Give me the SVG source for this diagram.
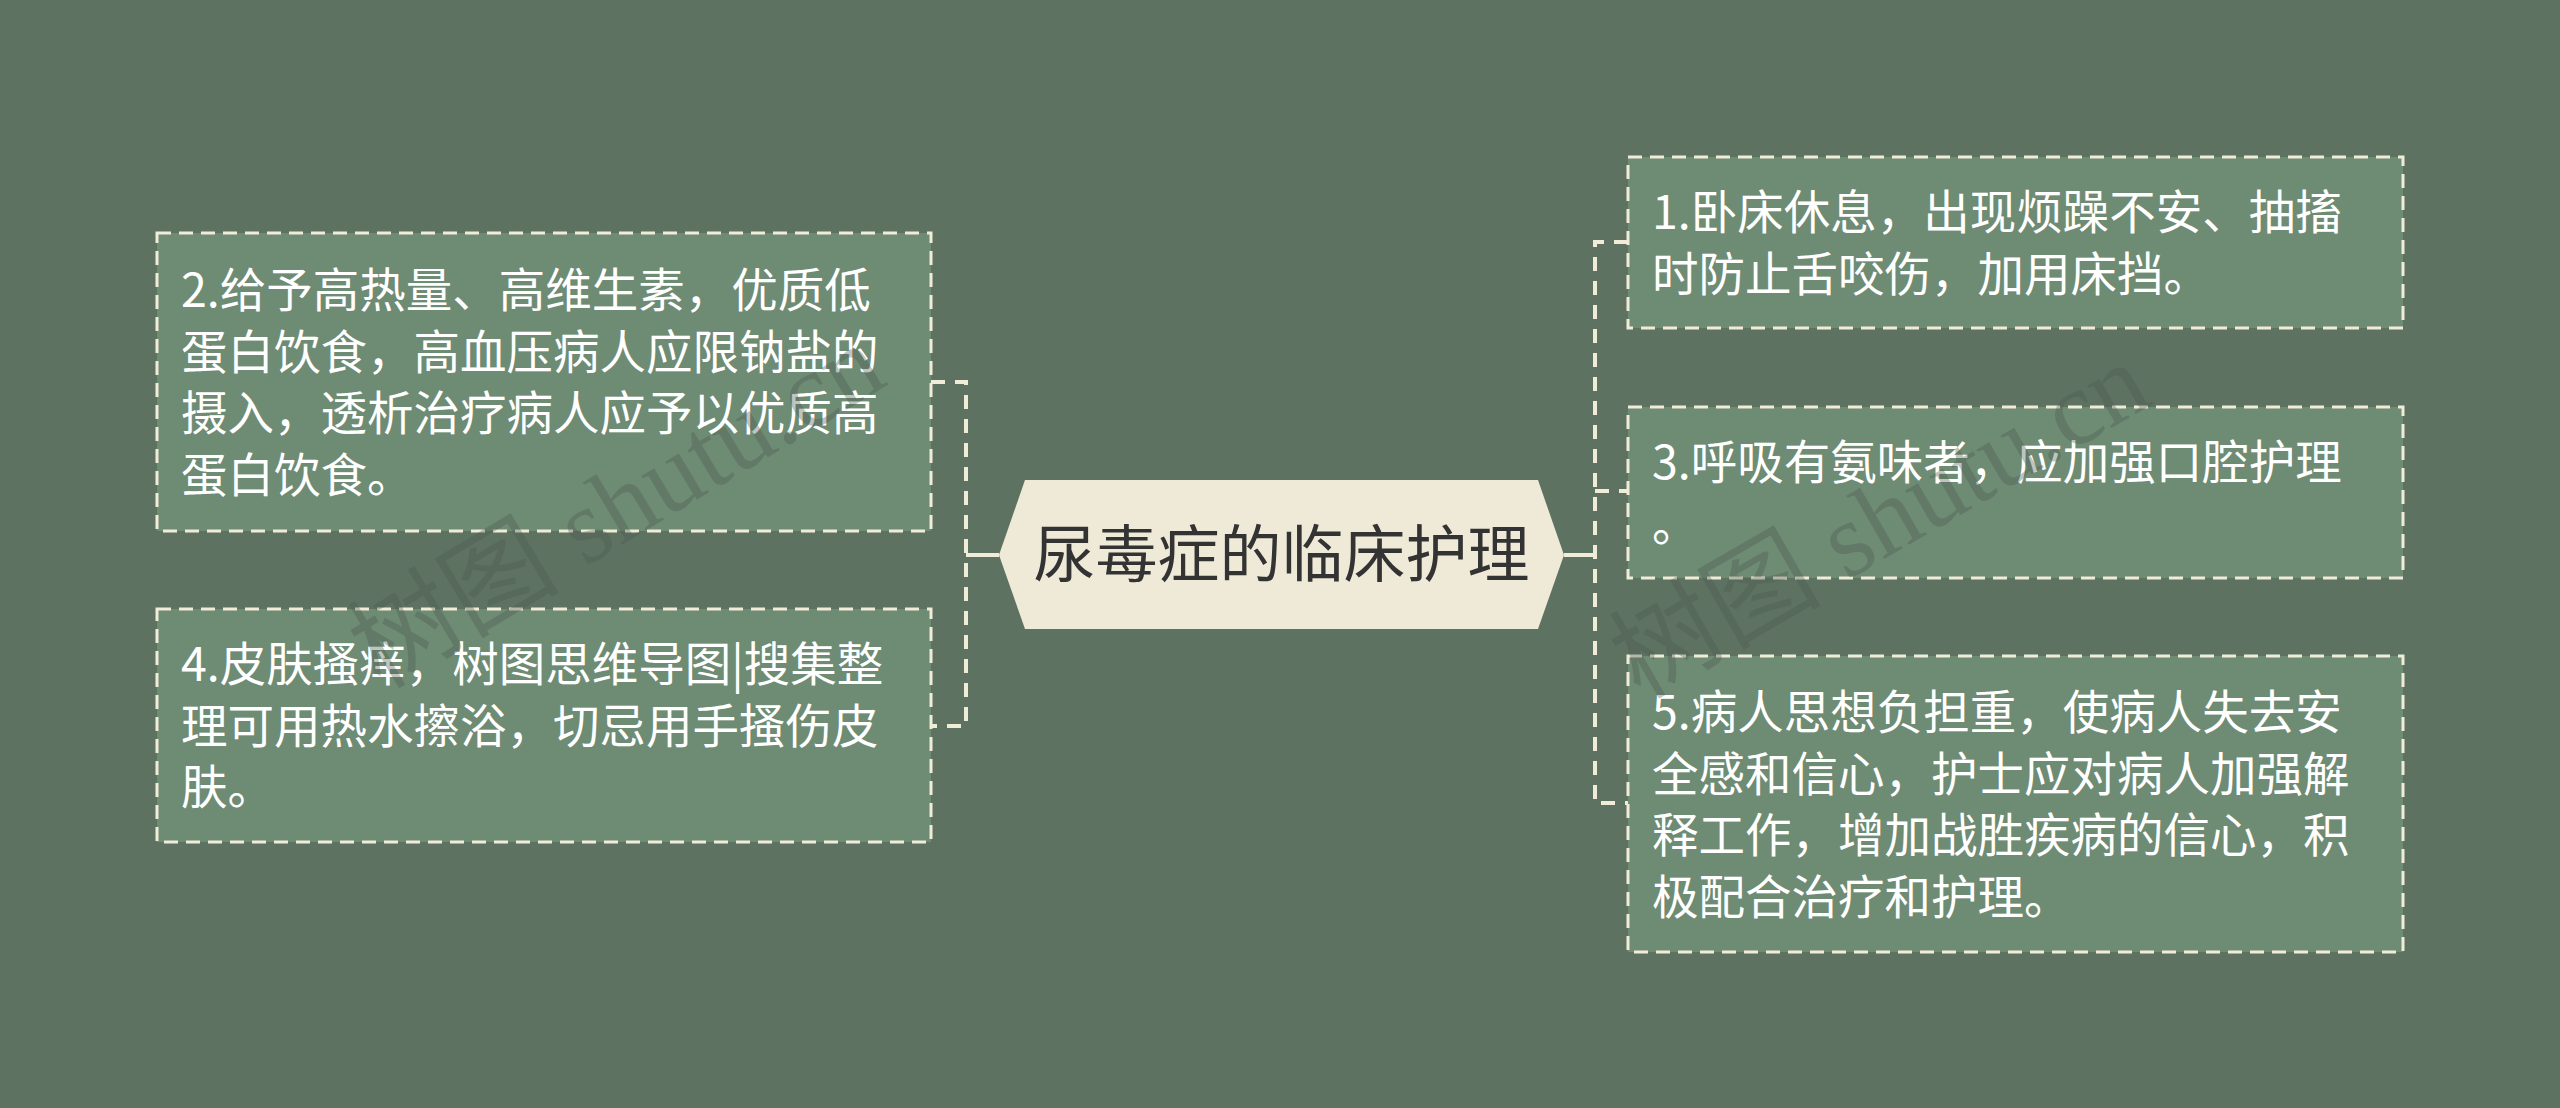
<svg xmlns="http://www.w3.org/2000/svg" width="2560" height="1108" viewBox="0 0 2560 1108">
<style>
.box{fill:#6e8b74;stroke:#f0ecd8;stroke-width:3;stroke-dasharray:14 8}
.txt{font-family:"Noto Sans CJK SC","Noto Sans",sans-serif;font-size:46.5px;fill:#ffffff}
.ctxt{font-family:"Noto Sans CJK SC","Noto Sans",sans-serif;font-size:62px;fill:#333333}
.dash{fill:none;stroke:#f0ecd8;stroke-width:4;stroke-dasharray:14 10}
.solid{fill:none;stroke:#f0ecd8;stroke-width:4}
.wm{font-family:"Liberation Serif","Noto Sans CJK SC",serif;font-size:106px;fill:#4a5a4d;opacity:0.35}
</style>
<rect x="0" y="0" width="2560" height="1108" fill="#5e7262"/>
<g id="connectors">
<line class="solid" x1="999" y1="555" x2="966" y2="555"/>
<path class="dash" d="M931 382 H966 V726 H931"/>
<line class="solid" x1="1564" y1="555" x2="1595" y2="555"/>
<path class="dash" d="M1628 242 H1595 V803 H1628"/>
<line class="dash" x1="1595" y1="491" x2="1628" y2="491"/>
</g>
<g id="center">
<polygon points="999,555 1025,480 1538,480 1564,555 1538,629 1025,629" fill="#efe9d7"/>
<text class="ctxt" x="1281.5" y="577" text-anchor="middle">尿毒症的临床护理</text>
</g>
<g id="node2">
<rect class="box" x="157" y="233" width="774" height="298"/>
<text class="txt"><tspan x="181" y="307">2.给予高热量、高维生素，优质低</tspan><tspan x="181" y="369">蛋白饮食，高血压病人应限钠盐的</tspan><tspan x="181" y="430">摄入，透析治疗病人应予以优质高</tspan><tspan x="181" y="492">蛋白饮食。</tspan></text>
</g>
<g id="node4">
<rect class="box" x="157" y="609" width="774" height="233"/>
<text class="txt"><tspan x="181" y="681">4.皮肤搔痒，树图思维导图|搜集整</tspan><tspan x="181" y="743">理可用热水擦浴，切忌用手搔伤皮</tspan><tspan x="181" y="804">肤。</tspan></text>
</g>
<g id="node1">
<rect class="box" x="1628" y="157" width="775" height="171"/>
<text class="txt"><tspan x="1652" y="229">1.卧床休息，出现烦躁不安、抽搐</tspan><tspan x="1652" y="291">时防止舌咬伤，加用床挡。</tspan></text>
</g>
<g id="node3">
<rect class="box" x="1628" y="407" width="775" height="171"/>
<text class="txt"><tspan x="1652" y="479">3.呼吸有氨味者，应加强口腔护理</tspan><tspan x="1652" y="541">。</tspan></text>
</g>
<g id="node5">
<rect class="box" x="1628" y="656" width="775" height="296"/>
<text class="txt"><tspan x="1652" y="729">5.病人思想负担重，使病人失去安</tspan><tspan x="1652" y="791">全感和信心，护士应对病人加强解</tspan><tspan x="1652" y="852">释工作，增加战胜疾病的信心，积</tspan><tspan x="1652" y="914">极配合治疗和护理。</tspan></text>
</g>
<g id="watermark">
<text class="wm" transform="translate(380,690) rotate(-31)">树图 shutu.cn</text>
<text class="wm" transform="translate(1640,700) rotate(-30)">树图 shutu.cn</text>
</g>
</svg>
